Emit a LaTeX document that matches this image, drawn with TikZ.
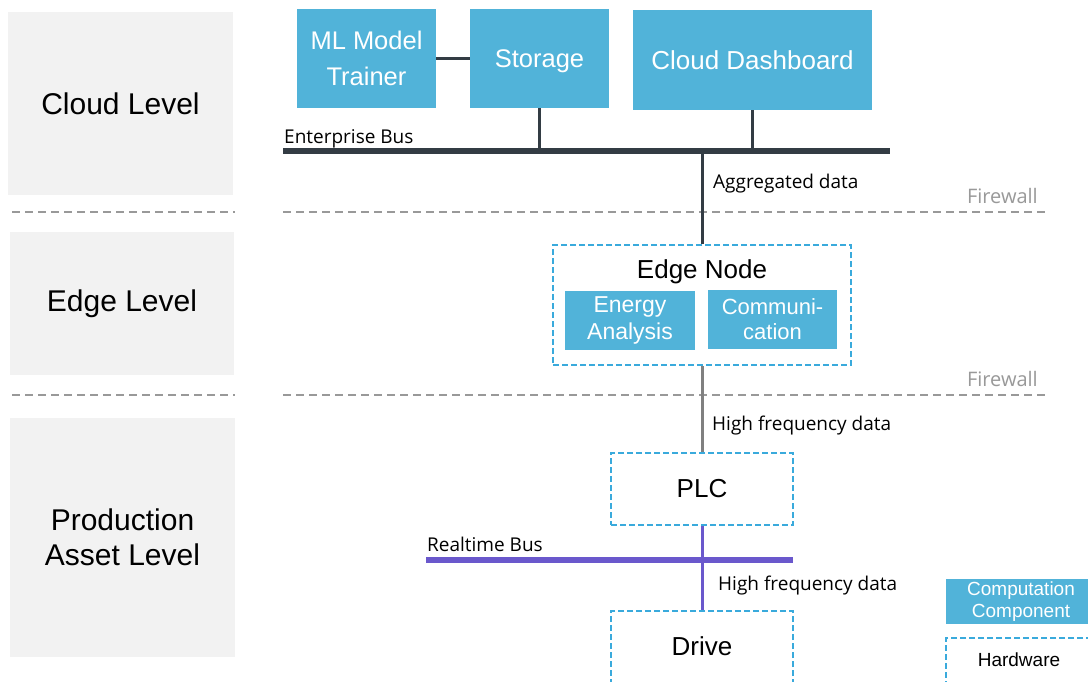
\documentclass[tikz,border=0pt]{standalone}
\usepackage{fontspec}
\setmainfont{Liberation Sans}
\newfontfamily\busfont{Open Sans}
\definecolor{levelgray}{HTML}{F2F2F2}
\definecolor{compblue}{HTML}{51B3D9}
\definecolor{hwblue}{HTML}{3AAADC}
\definecolor{sepgray}{HTML}{999999}
\definecolor{busdark}{HTML}{333C44}
\definecolor{buspurple}{HTML}{6A58CC}
\definecolor{linkgray}{HTML}{808080}
\tikzset{
  level/.style={fill=levelgray, inner sep=0pt, align=center, font=\fontsize{30}{35}\selectfont},
  comp/.style={fill=compblue, text=white, inner sep=0pt, align=center},
  hwbox/.style={draw=hwblue, line width=2pt, dash pattern=on 6pt off 3pt, inner sep=0pt},
  separator/.style={draw=sepgray, line width=2.5pt, dash pattern=on 8pt off 5pt},
  link/.style={line width=3pt},
  bus/.style={line width=6pt},
  buslabel/.style={font=\busfont\fontsize{19}{22}\selectfont, anchor=base west, inner sep=0pt},
  firewall/.style={font=\busfont\fontsize{20}{22}\selectfont, text=sepgray, anchor=base east, inner sep=0pt}
}
\begin{document}
\begin{tikzpicture}[x=1pt, y=-1pt]
    \clip (0,0) rectangle (1088,681);
    \fill[white] (0,0) rectangle (1088,681);

    % levels
    \node[level, minimum width=225pt, minimum height=183pt] (cloud-level) at (120.5,103.5) {Cloud Level};
    \node[level, minimum width=224pt, minimum height=143pt] (edge-level)  at (122,303.5)  {Edge Level};
    \node[level, minimum width=225pt, minimum height=239pt] (prod-level)  at (122.5,537.5) {Production\\Asset Level};

    \draw[separator] (12,212) -- (235,212);
    \draw[separator] (283,212) -- (1045,212);
    \draw[separator] (12,395) -- (235,395);
    \draw[separator] (283,395) -- (1045,395);
    \node[firewall] (firewall-up)  at (1038,203) {Firewall};
    \node[firewall] (firewall-low) at (1038,386) {Firewall};

    % cloud
    \node[comp, minimum width=139pt, minimum height=99pt, font=\fontsize{25.5}{36}\selectfont] (trainer) at (366.5,58.5) {ML Model\\Trainer};
    \node[comp, minimum width=139pt, minimum height=99pt, text depth=0pt, font=\fontsize{25.5}{30}\selectfont] (storage) at (539.5,58.5) {Storage};
    \node[comp, minimum width=239pt, minimum height=100pt, font=\fontsize{26}{30}\selectfont] (dashboard) at (752.5,60) {Cloud Dashboard};

    \coordinate (ent-bus-w) at (283,151);
    \coordinate (ent-bus-e) at (890,151);
    \node[buslabel] (ent-bus-label) at (284,143) {Enterprise Bus};

    % edge
    \node[hwbox, minimum width=298pt, minimum height=120pt] (edge-node) at (702,305) {};
    \node[font=\fontsize{26}{30}\selectfont, inner sep=0pt, text depth=0pt] (edge-title) at (702,269) {Edge Node};
    \node[comp, minimum width=130pt, minimum height=59pt, font=\fontsize{23}{27}\selectfont] (energy) at (630,320.5) {Energy\\Analysis};
    \node[comp, minimum width=129pt, minimum height=59pt, font=\fontsize{22}{25}\selectfont] (comm)   at (772.5,319.5) {Communi-\\cation};

    % production
    \node[hwbox, minimum width=182pt, minimum height=72pt] (plc)   at (702,489) {};
    \node[font=\fontsize{26}{30}\selectfont, inner sep=0pt] (plc-text) at (702,489) {PLC};
    \node[hwbox, minimum width=182pt, minimum height=90pt] (drive) at (702,656) {};
    \node[font=\fontsize{26}{30}\selectfont, inner sep=0pt] (drive-text) at (702,646) {Drive};

    \coordinate (rt-bus-w) at (426,560);
    \coordinate (rt-bus-e) at (793,560);
    \node[buslabel] (rt-bus-label) at (427,551) {Realtime Bus};

    % legend
    \node[comp, minimum width=150pt, minimum height=45pt, font=\fontsize{19}{22}\selectfont] (legend-comp) at (1021,601.5) {Computation\\Component};
    \node[hwbox, minimum width=150pt, minimum height=62pt] (legend-hw) at (1021,669) {};
    \node[font=\fontsize{19}{22}\selectfont, inner sep=0pt] (legend-hw-text) at (1019,660) {Hardware};

    % connectors
    \draw[link, busdark]    (trainer.east) -- (storage.west);
    \draw[link, busdark]    (storage.south) -- (storage.south |- ent-bus-w);
    \draw[link, busdark]    (dashboard.south -| 752,0) -- (752,151);
    \draw[link, busdark]    (edge-node.north |- ent-bus-w) -- (edge-node.north);
    \draw[link, linkgray]   (edge-node.south) -- (plc.north);
    \draw[link, buspurple]  (plc.south) -- (drive.north);
    \draw[bus, busdark]     (ent-bus-w) -- (ent-bus-e);
    \draw[bus, buspurple]   (rt-bus-w) -- (rt-bus-e);

    \node[buslabel] (agg-label)  at (713,188) {Aggregated data};
    \node[buslabel] (hf-label-1) at (712,430) {High frequency data};
    \node[buslabel] (hf-label-2) at (718,590) {High frequency data};
\end{tikzpicture}
\end{document}
